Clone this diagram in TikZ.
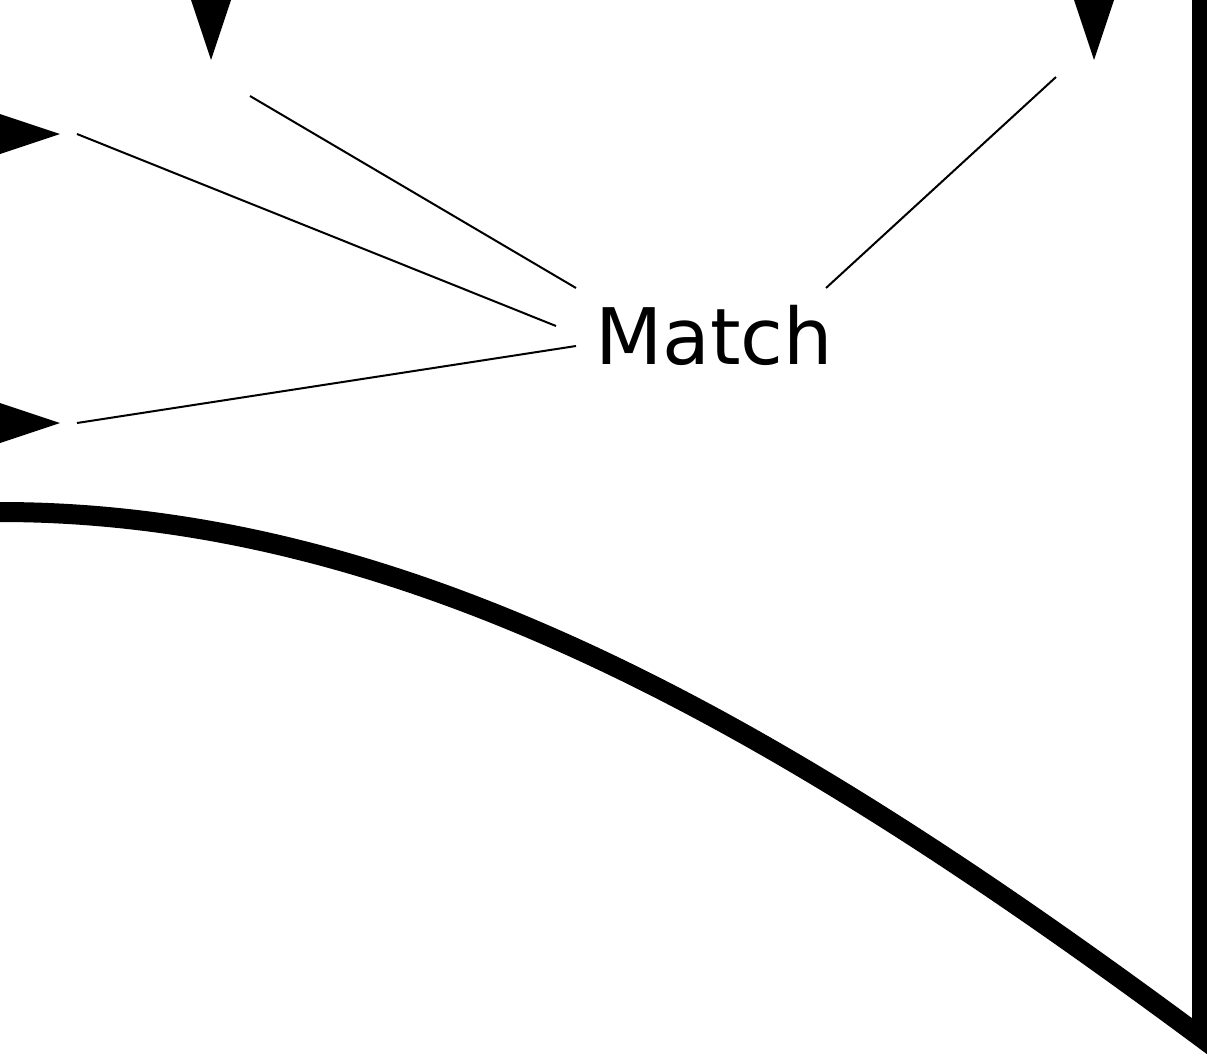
\documentclass[tikz,border=0pt]{standalone}
\usepackage{fontspec}
\usepackage{tikz}
\newfontfamily\matchfont{DejaVu Sans}
\tikzset{
  wire/.style={draw=black, line width=2pt},
  bold/.style={draw=black, line width=20pt, line join=miter},
  head/.style={fill=black},
  lab/.style={font=\matchfont\fontsize{78}{94}\selectfont, inner sep=0pt, anchor=base},
}
\begin{document}
\begin{tikzpicture}[x=1pt,y=-1pt]
  \useasboundingbox (0,0) rectangle (1207,1057);
  \clip (0,0) rectangle (1207,1057);
  \node[lab] (match) at (714,364) {Match};
  % ends of the thin lines
  \coordinate (m-nw) at (576,288);
  \coordinate (m-w)  at (556,326);
  \coordinate (m-sw) at (576,346);
  \coordinate (m-ne) at (826,288);
  \coordinate (up-l)  at (250,96);
  \coordinate (left-a) at (77,134);
  \coordinate (left-b) at (77,423);
  \coordinate (up-r)  at (1056,77);
  \draw[wire] (m-nw) -- (up-l);
  \draw[wire] (m-w)  -- (left-a);
  \draw[wire] (m-sw) -- (left-b);
  \draw[wire] (m-ne) -- (up-r);
  % arrow heads, cut by the frame
  \coordinate (tip-ul) at (211,60);
  \coordinate (tip-ur) at (1094,60);
  \coordinate (tip-la) at (60,134);
  \coordinate (tip-lb) at (60,423);
  \fill[head] (tip-ul) -- ++(-30,-90) -- ++(60,0) -- cycle;
  \fill[head] (tip-ur) -- ++(-30,-90) -- ++(60,0) -- cycle;
  \fill[head] (tip-la) -- ++(-90,-30) -- ++(0,60) -- cycle;
  \fill[head] (tip-lb) -- ++(-90,-30) -- ++(0,60) -- cycle;
  % the heavy border
  \coordinate (corner) at (1202,1038);
  \coordinate (rim) at (0,512);
  \draw[bold] (1202,-20) -- (corner) .. controls (800,740) and (420,512) .. (rim) -- (-30,512);
\end{tikzpicture}
\end{document}
